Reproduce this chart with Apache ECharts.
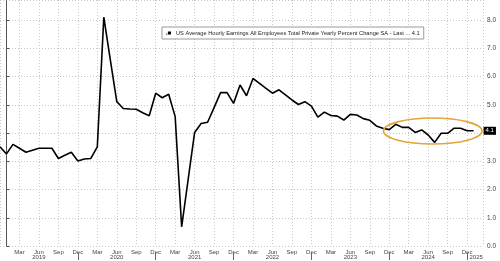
<!DOCTYPE html>
<html><head><meta charset="utf-8">
<script src="https://cdn.jsdelivr.net/npm/echarts@6/dist/echarts.min.js"></script>
<style>html,body{margin:0;padding:0;background:#fff}#c{width:500px;height:261px}</style>
</head><body><div id="c"></div>
<script>
// Months from Dec 2018 to Jan 2025 (index relative to Jan 2019)
var startIndex = -1;
var values = [3.51,
  3.26,3.60,3.46,3.32,3.39,3.46,3.46,3.46,3.10,3.21,3.32,3.01,
  3.08,3.10,3.51,8.10,6.60,5.11,4.87,4.85,4.84,4.72,4.61,5.41,
  5.25,5.37,4.58,0.68,2.35,4.02,4.34,4.38,4.90,5.43,5.43,5.05,
  5.70,5.32,5.93,5.76,5.58,5.41,5.53,5.35,5.17,5.01,5.11,4.95,
  4.56,4.74,4.62,4.60,4.46,4.66,4.64,4.51,4.45,4.25,4.17,4.12,
  4.31,4.20,4.20,4.02,4.11,3.93,3.67,3.99,3.99,4.17,4.17,4.08,
  4.08];
var monthNames = ['Jan','Feb','Mar','Apr','May','Jun','Jul','Aug','Sep','Oct','Nov','Dec'];
var yearLabels = ['2019','2020','2021','2022','2023','2024','2025'];
var yearLabelPos = [5,17,29,41,53,65,72.4];
var yearSepPos = [11,23,35,47,59,71];
var seriesName = 'US Average Hourly Earnings All Employees Total Private Yearly Percent Change SA';
// annotation ellipse (data units): center month index, center value, radius months, radius value
var ellipseSpec = [65.7, 4.07, 7.6, 0.46];

var data = values.map(function(v,i){return [startIndex+i, v];});
var last = values[values.length-1];
var chart = echarts.init(document.getElementById('c'));
var font = 'Liberation Sans';
var xMin = -1, xMax = 73.45;
chart.setOption({
  animation:false,
  grid:{left:0,right:17,top:0,bottom:15},
  legend:{
    show:true, left:162, top:27, itemWidth:5, itemHeight:5, itemGap:4,
    icon:'path://M0,3.5h2v1.5h-2zM3,0h5v5h-5z',
    padding:[3,4,3,4], borderColor:'#999', borderWidth:1, borderRadius:0, backgroundColor:'#fff',
    textStyle:{fontSize:5.7, color:'#222', fontFamily:font},
    formatter:function(n){return n+' - Last ... '+last.toFixed(1);},
    data:[{name:seriesName, itemStyle:{color:'#000'}}]
  },
  xAxis:[{
    type:'value', min:xMin, max:xMax, interval:3,
    axisLine:{show:false}, axisTick:{show:false},
    splitLine:{show:true, lineStyle:{color:'#c8c8c8', type:[1,2], width:1}},
    axisLabel:{show:true, showMinLabel:false, showMaxLabel:false, fontSize:6, color:'#444', fontFamily:font, margin:3,
      formatter:function(v){var m=((Math.round(v)%12)+12)%12; return monthNames[m];}}
  },{
    type:'value', min:xMin, max:xMax, position:'bottom', offset:7,
    axisLine:{show:false}, splitLine:{show:false},
    axisTick:{show:true, customValues:yearSepPos, length:7, lineStyle:{color:'#666'}},
    axisLabel:{show:true, customValues:yearLabelPos, fontSize:6, color:'#444', fontFamily:font, margin:1.5,
      formatter:function(v){var i=yearLabelPos.indexOf(v); return i>=0?yearLabels[i]:'';}}
  }],
  yAxis:{
    type:'value', position:'right', min:0, max:8.71, interval:1,
    axisLine:{show:true, lineStyle:{color:'#555'}},
    axisTick:{show:true, length:3, lineStyle:{color:'#555'}},
    splitLine:{show:true, lineStyle:{color:'#c8c8c8', type:[1,2], width:1}},
    axisLabel:{showMaxLabel:false, fontSize:6.5, color:'#444', fontFamily:font, margin:4,
      formatter:function(v){return v.toFixed(1);}}
  },
  series:[{
    name:seriesName, type:'line', data:data, xAxisIndex:0, showSymbol:false, symbol:'none',
    lineStyle:{color:'#000', width:1.6}, itemStyle:{color:'#000'},
    endLabel:{show:true, distance:10, formatter:function(p){return p.value[1].toFixed(1);},
      backgroundColor:'#000', color:'#fff', fontSize:6, fontFamily:font, padding:[1,2,1,2]}
  }]
});
var c = chart.convertToPixel({gridIndex:0},[ellipseSpec[0], ellipseSpec[1]]);
var e = chart.convertToPixel({gridIndex:0},[ellipseSpec[0]+ellipseSpec[2], ellipseSpec[1]+ellipseSpec[3]]);
chart.setOption({graphic:[{type:'ellipse', z:100,
  shape:{cx:c[0], cy:c[1], rx:Math.abs(e[0]-c[0]), ry:Math.abs(c[1]-e[1])},
  style:{fill:null, stroke:'#e3a537', lineWidth:1.6}}]});
</script></body></html>
